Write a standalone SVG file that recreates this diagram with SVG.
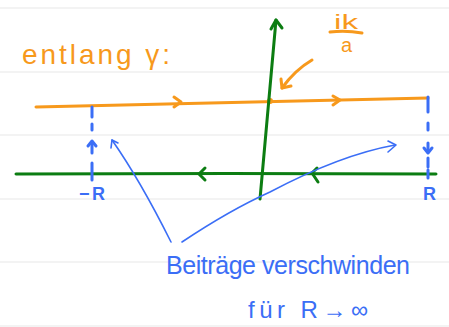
<svg xmlns="http://www.w3.org/2000/svg" width="449" height="327" viewBox="0 0 449 327">
<style>
.grid{stroke:#efefef;stroke-width:1.5}
.or{stroke:#f7991c;fill:none;stroke-width:3;stroke-linecap:round;stroke-linejoin:round}
.gr{stroke:#0c7d12;fill:none;stroke-width:3;stroke-linecap:round;stroke-linejoin:round}
.bl{stroke:#3b6ef6;fill:none;stroke-width:3;stroke-linecap:round;stroke-linejoin:round}
.blt{stroke:#3b6ef6;fill:none;stroke-width:1.6;stroke-linecap:round;stroke-linejoin:round}
.to{fill:#f7991c;font-family:"Liberation Sans",Arial,sans-serif}
.tb{fill:#3b6ef6;font-family:"Liberation Sans",Arial,sans-serif}
</style>
<rect width="449" height="327" fill="#fff"/>
<g id="grid">
<line class="grid" x1="0" y1="8" x2="449" y2="8"/>
<line class="grid" x1="0" y1="72" x2="449" y2="72"/>
<line class="grid" x1="0" y1="135" x2="449" y2="135"/>
<line class="grid" x1="0" y1="199" x2="449" y2="199"/>
<line class="grid" x1="0" y1="262" x2="449" y2="262"/>
<line class="grid" x1="0" y1="326" x2="449" y2="326"/>
</g>
<g id="title">
<text class="to" x="22" y="64" font-size="28" textLength="148" lengthAdjust="spacing">entlang γ:</text>
</g>
<g id="pole-label">
<text class="to" x="334" y="29" font-size="20" textLength="24" lengthAdjust="spacingAndGlyphs">ik</text>
<path class="or" d="M330 32 Q346 30 362 33"/>
<text class="to" x="341" y="52" font-size="20">a</text>
</g>
<g id="connectors">
<path class="or" d="M36 107 L428 98"/>
<path class="or" d="M174 97 L181 102 L174 107"/>
<path class="or" d="M333 96 L340 100 L333 105"/>
<circle cx="270" cy="101" r="3" fill="#f7991c"/>
<path class="or" d="M312 60 Q295 70 282 88"/>
<path class="or" d="M281 79 L282 88 L291 86"/>
<path class="gr" d="M260 199 L276 20"/>
<path class="gr" d="M271 29 L276 20 L282 28"/>
<path class="gr" d="M16 174 Q230 173 436 174"/>
<path class="gr" d="M205 168 L199 174 L205 180"/>
<path class="gr" d="M317 168 L312 173 L318 182"/>
<path class="bl" d="M92 107 V117 M92 124 V130 M92 142 V153 M92 163 V180"/>
<path class="bl" d="M88 146 L92 141 L96 146"/>
<path class="bl" d="M428 97 V112 M428 123 V130 M428 143 V152 M428 158 V167 M428 170 V178"/>
<path class="bl" d="M424 148 L428 153 L432 148"/>
<path class="blt" d="M171 242 Q140 180 112 140"/>
<path class="blt" d="M111 148 L112 140 L118 143"/>
<path class="blt" d="M182 242 Q230 210 270 192 Q340 155 395 145"/>
<path class="blt" d="M388 141 L396 145 L388 152"/>
</g>
<g id="labels">
<text class="tb" x="79" y="200" font-size="18" font-weight="bold" textLength="26" lengthAdjust="spacing">−R</text>
<text class="tb" x="423" y="200" font-size="18" font-weight="bold">R</text>
<text class="tb" x="166" y="274" font-size="25" textLength="244" lengthAdjust="spacing">Beiträge verschwinden</text>
<text class="tb" x="248" y="318" font-size="24" textLength="120" lengthAdjust="spacing">für R→∞</text>
</g>
</svg>
